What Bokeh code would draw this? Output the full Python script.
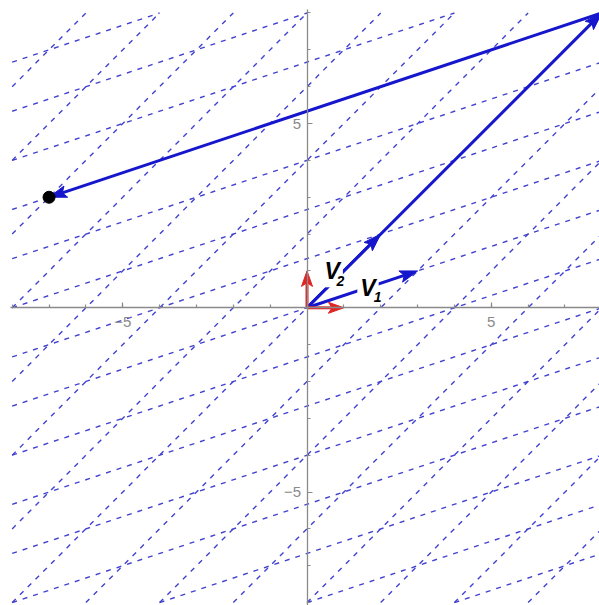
import numpy as np
from bokeh.plotting import figure
from bokeh.models import LinearAxis, FixedTicker, Range1d
from bokeh.core.properties import value
from bokeh.embed import file_html
from bokeh.resources import INLINE

# ---- data ----
E1 = [1, 0]
E2 = [0, 1]
V1 = [3, 1]
V2 = [2, 2]
COEF_V2 = 4          # long arrow along V2: 4*V2
COEF_V1 = -5         # then -5*V1
LATTICE_K = list(range(-8, 9))
BOX = [-8, 8]
MAJOR_TICKS = [-5, 5]
MINOR_TICKS = list(range(-8, 9))
TICK_LABELS = {-5: "\u22125", 5: "5"}
LABEL_MAIN = ["V", "V"]
LABEL_SUB = ["2", "1"]

BLUE = "#1616cc"
DASH_BLUE = "#4242d0"
RED = "#e02424"
GRAY = "#8a8a8a"

p = figure(width=599, height=605,
           x_range=Range1d(-8.317, 7.937), y_range=Range1d(-8.079, 8.339),
           output_backend="svg", toolbar_location=None,
           x_axis_location=None, y_axis_location=None, min_border=0)
p.outline_line_color = None
p.background_fill_color = "white"
p.grid.grid_line_color = None
p.grid.visible = False


def clip(P, d, lo, hi):
    P = np.asarray(P, float)
    d = np.asarray(d, float)
    t0, t1 = -1e9, 1e9
    for i in range(2):
        if d[i] == 0:
            if not (lo <= P[i] <= hi):
                return None
        else:
            a = (lo - P[i]) / d[i]
            b = (hi - P[i]) / d[i]
            t0 = max(t0, min(a, b))
            t1 = min(t1, max(a, b))
    if t1 - t0 < 1e-9:
        return None
    return P + t0 * d, P + t1 * d


# lattice lines: parallel to V1 through k*V2, parallel to V2 through k*V1
x0s, y0s, x1s, y1s = [], [], [], []
for d, base in ((V1, V2), (V2, V1)):
    for k in LATTICE_K:
        P = [k * base[0], k * base[1]]
        seg = clip(P, d, BOX[0], BOX[1])
        if seg is not None:
            a, b = seg
            x0s.append(a[0]); y0s.append(a[1]); x1s.append(b[0]); y1s.append(b[1])
p.segment(x0s, y0s, x1s, y1s, line_color=DASH_BLUE, line_width=1.4, line_dash="5 6")

# axes through origin
common = dict(fixed_location=0,
              ticker=FixedTicker(ticks=MAJOR_TICKS, minor_ticks=MINOR_TICKS),
              major_label_overrides=TICK_LABELS,
              axis_line_color=GRAY, axis_line_width=1.3,
              major_tick_in=5, major_tick_out=0,
              minor_tick_in=3, minor_tick_out=0,
              major_tick_line_color=GRAY, minor_tick_line_color=GRAY,
              major_tick_line_width=1.2, minor_tick_line_width=1.2,
              major_label_text_color=GRAY,
              major_label_text_font="Liberation Sans",
              major_label_text_font_size="15px")
xaxis = LinearAxis(bounds=(-8.05, 7.937), major_label_standoff=9, **common)
yaxis = LinearAxis(bounds=(-8.1, 8.1), major_label_standoff=6, **common)
p.add_layout(xaxis, "below")
p.add_layout(yaxis, "left")


def arrow(start, end, color, width=3, L=0.48, W=0.16, notch=0.1):
    s = np.asarray(start, float)
    e = np.asarray(end, float)
    u = (e - s) / np.hypot(*(e - s))
    n = np.array([-u[1], u[0]])
    shaft_end = e - (L - notch) * u
    p.segment([s[0]], [s[1]], [shaft_end[0]], [shaft_end[1]],
              line_color=color, line_width=width)
    pts = [e, e - L * u + W * n, e - (L - notch) * u, e - L * u - W * n]
    p.patch([q[0] for q in pts], [q[1] for q in pts],
            fill_color=color, line_color=color, line_width=1)


origin = [0, 0]
big = [COEF_V2 * V2[0], COEF_V2 * V2[1]]
target = [big[0] + COEF_V1 * V1[0], big[1] + COEF_V1 * V1[1]]

arrow(origin, big, BLUE)
arrow(big, target, BLUE)
arrow(origin, V2, BLUE)
arrow(origin, V1, BLUE)
arrow(origin, E1, RED, L=0.42, W=0.15)
arrow(origin, E2, RED, L=0.42, W=0.15)

p.scatter([target[0]], [target[1]], size=12, fill_color="black", line_color="black")

# labels V_2, V_1
p.text(x=[0.684, 1.655], y=[0.99, 0.537], text=LABEL_MAIN,
       text_font=value("Liberation Sans"), text_font_style="bold italic",
       text_font_size="23px", text_color="black",
       text_align="center", text_baseline="middle",
       background_fill_color="white", padding=3)
p.text(x=[0.905, 1.92], y=[0.74, 0.30], text=LABEL_SUB,
       text_font=value("Liberation Sans"), text_font_style="bold italic",
       text_font_size="14px", text_color="black",
       text_align="center", text_baseline="middle",
       background_fill_color="white", padding=1)

open("out.html", "w").write(file_html(p, INLINE))
